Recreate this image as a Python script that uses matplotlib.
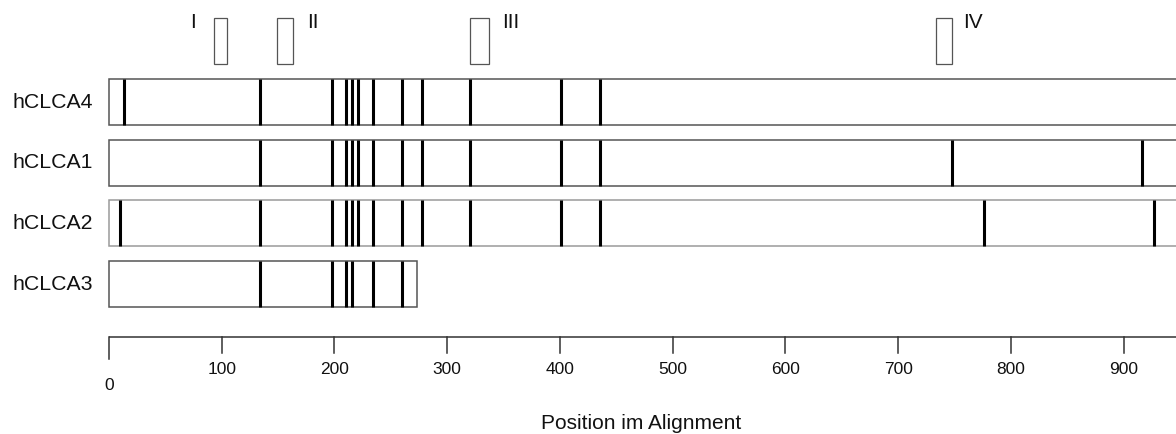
import matplotlib
matplotlib.use("Agg")
import matplotlib.pyplot as plt
from matplotlib.patches import Rectangle

plt.rcParams['font.family'] = ['Liberation Sans', 'DejaVu Sans']

# ---- data ----
sequences = ["hCLCA4", "hCLCA1", "hCLCA2", "hCLCA3"]
seq_lengths = [960, 960, 960, 273.5]
marks_hCLCA4 = [13.6, 134, 198, 210, 215.5, 221, 234, 260, 277.5, 320.5, 400.5, 435.5]
marks_hCLCA1 = [134, 198, 210, 215.5, 221, 234, 260, 277.5, 320.5, 400.5, 435.5, 747.5, 916]
marks_hCLCA2 = [9.8, 134, 198, 210, 215.5, 221, 234, 260, 277.5, 320.5, 400.5, 435.5, 776, 926.5]
marks_hCLCA3 = [134, 198, 210, 215.5, 234, 260]
motif_names = ["I", "II", "III", "IV"]
motif_start = [93.1, 148.7, 320.2, 733.3]
motif_end = [104.4, 162.9, 337.3, 747.5]
motif_label_x = [74.5, 181, 356, 766]
tick_values = [0, 100, 200, 300, 400, 500, 600, 700, 800, 900]
xlabel = "Position im Alignment"

marks = [marks_hCLCA4, marks_hCLCA1, marks_hCLCA2, marks_hCLCA3]
edge_colors = ["#555555", "#555555", "#9a9a9a", "#555555"]

# ---- figure ----
W, H = 1176, 434
fig = plt.figure(figsize=(W / 100, H / 100), dpi=100)
ax = fig.add_axes([0, 0, 1, 1])
ax.set_axis_off()
px_per_unit = 1.1274
x0_px = 109
ax.set_xlim(-x0_px / px_per_unit, (W - x0_px) / px_per_unit)
ax.set_ylim(H, 0)  # vertical layout in pixel units

row_centers = [102.2, 163.0, 223.4, 284.3]
bar_h = 46

for name, length, mk, yc, ec in zip(sequences, seq_lengths, marks, row_centers, edge_colors):
    ax.add_patch(Rectangle((0, yc - bar_h / 2), length, bar_h, facecolor="white",
                           edgecolor=ec, linewidth=1.1, zorder=2))
    ax.vlines(mk, yc - bar_h / 2, yc + bar_h / 2, colors="black", linewidth=2.2, zorder=3)
    ax.text(-14, yc, name, ha="right", va="center", fontsize=15.3, color="#111111")

# motif boxes
for nm, s, e, lx in zip(motif_names, motif_start, motif_end, motif_label_x):
    ax.add_patch(Rectangle((s, 18.3), e - s, 46, facecolor="white",
                           edgecolor="#555555", linewidth=0.9, zorder=2))
    ax.text(lx, 27.8, nm, ha="center", va="baseline", fontsize=15, color="#111111")

# axis
axis_y = 337.3
ax.plot([0, 2000], [axis_y, axis_y], color="#333333", linewidth=1.1, solid_capstyle="butt")
for t in tick_values:
    bottom = 359 if t == 0 else 352.7
    base = 390 if t == 0 else 374
    ax.plot([t, t], [axis_y, bottom], color="#333333", linewidth=1.1)
    ax.text(t, base, str(t), ha="center", va="baseline", fontsize=12.5, color="#111111")

ax.text(472, 429, xlabel, ha="center", va="baseline", fontsize=15, color="#111111")

fig.savefig("out.png", dpi=100, facecolor="white")
